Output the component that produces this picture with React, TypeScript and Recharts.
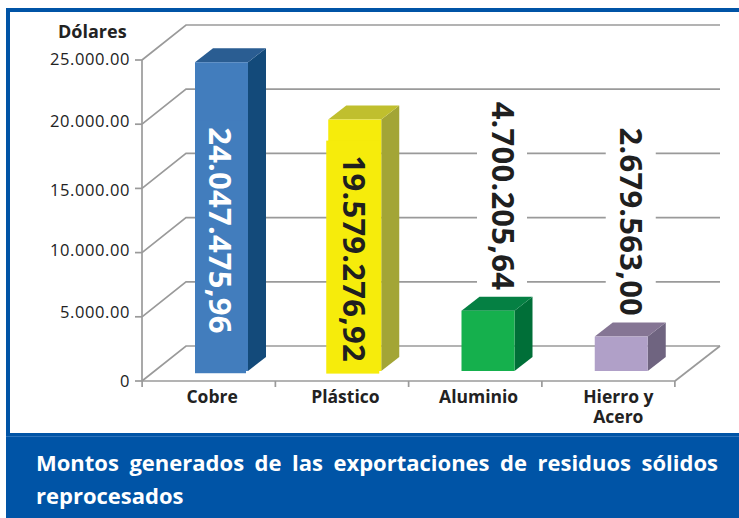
import React from "react";
import { BarChart, Bar, XAxis, YAxis, CartesianGrid, LabelList } from "recharts";

const categories = ["Cobre", "Plástico", "Aluminio", "Hierro y Acero"];
const amounts = [24047475.96, 19579276.92, 4700205.64, 2679563.0];
const yTicks = [0, 5000000, 10000000, 15000000, 20000000, 25000000];
const yTickLabels = ["0", "5.000.00", "10.000.00", "15.000.00", "20.000.00", "25.000.00"];
const yLabelNudge = [-1, -5, -3, 1, -4, -2];
const frontColors = ["#427DBD", "#F6EC0B", "#15B04D", "#B0A0C8"];
const topColors = ["#2A5D92", "#C0BF2E", "#058043", "#857594"];
const sideColors = ["#134A7A", "#A3A536", "#006F38", "#6F6480"];
const labelColors = ["#FFFFFF", "#1F1F1F", "#1F1F1F", "#1F1F1F"];
const yAxisTitle = "Dólares";
const caption = "Montos generados de las exportaciones de residuos sólidos reprocesados";

const data = categories.map((name, i) => ({ name, amount: amounts[i] }));

const GRID = "#9A9A9A";
const DEPTH_X = 44;
const DEPTH_Y = 35;
const BAR_DX = 13;
const BAR_DY = -10;
const SIDE_X = 18;
const SIDE_Y = 14;
const FONT = "'Open Sans', sans-serif";

// label placement relative to the (shifted) bar's top-left corner
const labelOffsets = [
  { dx: 14, dy: 65, px: 0, py: 58, pw: 51, ph: 253, fill: "#427DBD" },
  { dx: 15, dy: 36, px: -2, py: 21, pw: 53, ph: 233, fill: "#F6EC0B" },
  { dx: 30.5, dy: -209, px: 15.5, py: -215, pw: 50, ph: 200, fill: "#FFFFFF" },
  { dx: 25.7, dy: -209, px: 11, py: -216, pw: 50, ph: 196, fill: "#FFFFFF" },
];

const fmt = (v: number) =>
  new Intl.NumberFormat("de-DE", { minimumFractionDigits: 2, maximumFractionDigits: 2 }).format(v);

function gridLine(p: any) {
  const { x1, x2, y1, key } = p;
  return (
    <polyline
      key={key}
      points={`${x1},${y1} ${x1 + DEPTH_X},${y1 - DEPTH_Y} ${x2 + DEPTH_X + 1},${y1 - DEPTH_Y}`}
      fill="none"
      stroke={GRID}
      strokeWidth={1.7}
    />
  );
}

function Box3D(p: any) {
  const { x, y, width: w, height: h, index } = p;
  const bx = x + BAR_DX;
  const by = y + BAR_DY;
  return (
    <g>
      <polygon
        points={`${bx + w},${by} ${bx + w + SIDE_X},${by - SIDE_Y} ${bx + w + SIDE_X},${by + h - SIDE_Y} ${bx + w},${by + h}`}
        fill={sideColors[index]}
      />
      <polygon
        points={`${bx},${by} ${bx + SIDE_X},${by - SIDE_Y} ${bx + w + SIDE_X},${by - SIDE_Y} ${bx + w},${by}`}
        fill={topColors[index]}
      />
      <rect x={bx} y={by} width={w} height={h} fill={frontColors[index]} />
    </g>
  );
}

function BarValueLabel(p: any) {
  const vb = p.viewBox ?? p;
  const { index, value } = p;
  const o = labelOffsets[index];
  const bx = vb.x + BAR_DX;
  const by = vb.y + BAR_DY;
  const tx = bx + o.dx;
  const ty = by + o.dy;
  return (
    <g>
      <rect x={bx + o.px} y={by + o.py} width={o.pw} height={o.ph} fill={o.fill} />
      <text
        transform={`translate(${tx},${ty}) rotate(90)`}
        textAnchor="start"
        fontFamily={FONT}
        fontWeight={700}
        fontSize={31}
        letterSpacing={0.2}
        fill={labelColors[index]}
      >
        {fmt(value)}
      </text>
    </g>
  );
}

function XTick(p: any) {
  const { x, payload, index } = p;
  const half = 66.5;
  const axisY = 381;
  const nudge = index === 3 ? 10 : 3.5;
  const lines = String(payload.value).split(/(?<= y) /);
  return (
    <g>
      <line x1={x - half} x2={x - half} y1={axisY} y2={axisY + 6} stroke={GRID} strokeWidth={1.7} />
      {index === categories.length - 1 && (
        <line x1={x + half} x2={x + half} y1={axisY} y2={axisY + 6} stroke={GRID} strokeWidth={1.7} />
      )}
      <text
        y={403}
        textAnchor="middle"
        fontFamily={FONT}
        fontWeight={700}
        fontSize={17.5}
        fill="#222"
      >
        {lines.map((t, i) => (
          <tspan key={t} x={x + nudge} y={403 + i * 20}>
            {t}
          </tspan>
        ))}
      </text>
    </g>
  );
}

function YTick(p: any) {
  const { x, y, index } = p;
  return (
    <text
      x={x}
      y={y + yLabelNudge[index]}
      textAnchor="end"
      dominantBaseline="central"
      fontFamily={FONT}
      fontSize={16.5}
      letterSpacing={0.6}
      fill="#222"
    >
      {yTickLabels[index]}
    </text>
  );
}

export default function App() {
  return (
    <div style={{ position: "absolute", left: 0, top: 0, width: 739, height: 518, background: "#fff", overflow: "hidden" }}>
      <div style={{ position: "absolute", left: 6, top: 8, width: 733, height: 3.5, background: "#0054A6" }} />
      <div style={{ position: "absolute", left: 6, top: 8, width: 4, height: 426, background: "#0054A6" }} />
      <div style={{ position: "absolute", left: 6, top: 433, width: 733, height: 85, background: "#0054A6" }} />
      <div style={{ position: "absolute", left: 6, top: 436, width: 733, height: 1, background: "#2E74BC" }} />
      <div
        style={{
          position: "absolute",
          left: 36,
          top: 446,
          width: 682,
          fontFamily: FONT,
          fontWeight: 700,
          fontSize: 22,
          lineHeight: "33px",
          color: "#fff",
          textAlign: "justify",
        }}
      >
        {caption}
      </div>
      <div
        style={{
          position: "absolute",
          left: 58,
          top: 19,
          fontFamily: FONT,
          fontWeight: 700,
          fontSize: 18,
          color: "#222",
        }}
      >
        {yAxisTitle}
      </div>
      <div style={{ position: "absolute", left: 0, top: 0 }}>
        <BarChart
          width={739}
          height={518}
          data={data}
          margin={{ top: 60, right: 64, bottom: 107, left: 62 }}
          barSize={53}
        >
          <CartesianGrid horizontal={gridLine as any} vertical={false} />
          <XAxis
            dataKey="name"
            height={30}
            interval={0}
            stroke={GRID}
            strokeWidth={1.7}
            tickLine={false}
            tick={<XTick />}
          />
          <YAxis
            width={80}
            domain={[0, 25000000]}
            ticks={yTicks}
            interval={0}
            stroke={GRID}
            strokeWidth={1.7}
            tickSize={7}
            tickMargin={5}
            tick={<YTick />}
          />
          <Bar dataKey="amount" isAnimationActive={false} shape={<Box3D />}>
            <LabelList dataKey="amount" content={<BarValueLabel />} />
          </Bar>
        </BarChart>
      </div>
      <svg width={739} height={518} style={{ position: "absolute", left: 0, top: 0, pointerEvents: "none" }}>
        <line x1={675} y1={381} x2={720} y2={346} stroke={GRID} strokeWidth={1.7} />
      </svg>
    </div>
  );
}
